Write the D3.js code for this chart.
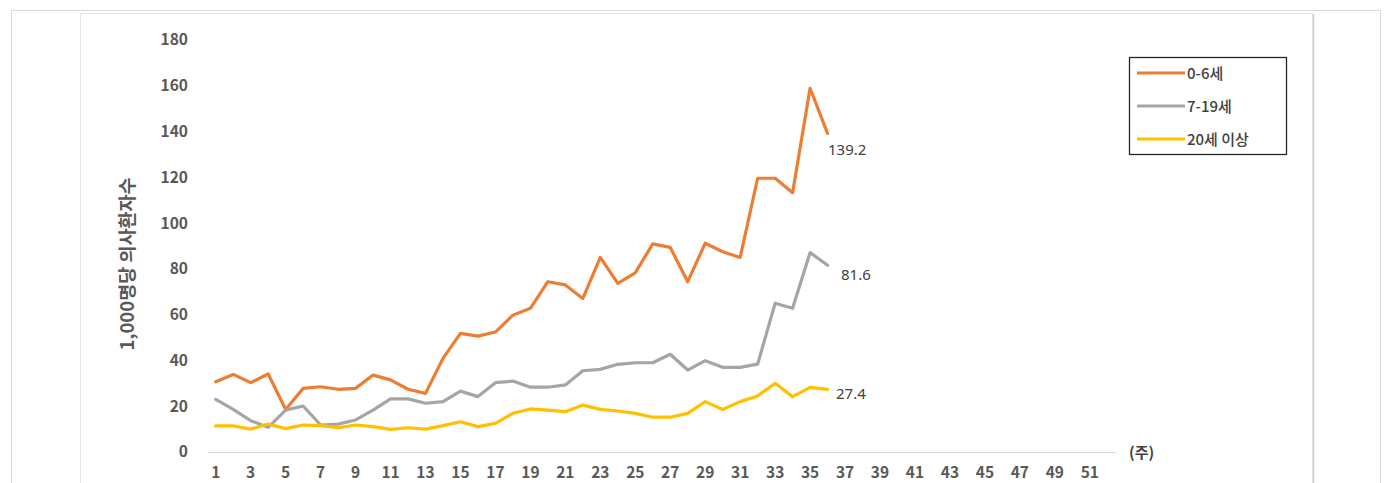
<!DOCTYPE html>
<html><head><meta charset="utf-8">
<script src="https://cdn.jsdelivr.net/npm/d3@7"></script>
<style>body{margin:0;background:#fff;}svg{display:block;font-family:"Noto Sans CJK KR","Noto Sans",sans-serif;}</style>
</head><body><svg id="c" width="1392" height="483"></svg>
<script>
const weeks = d3.range(1, 53);
const tickWeeks = d3.range(1, 53, 2);
const yTicks = [0,20,40,60,80,100,120,140,160,180];
const seriesNames = ["0-6세","7-19세","20세 이상"];
const seriesColors = ["#ED7D31","#A5A5A5","#FFC000"];
const age0_6 = [30.7,33.9,30.3,34.1,18.6,27.8,28.5,27.4,27.8,33.6,31.5,27.4,25.6,40.9,51.8,50.6,52.4,59.8,62.8,74.4,73.0,67.1,85.0,73.7,78.3,90.9,89.4,74.4,91.2,87.5,85.0,119.6,119.6,113.3,158.9,139.2];
const age7_19 = [23.0,18.6,13.7,10.8,18.3,20.1,11.8,12.2,14.0,18.3,23.2,23.2,21.3,22.0,26.6,24.2,30.3,31.0,28.3,28.3,29.3,35.5,36.1,38.3,39.0,39.0,42.7,35.8,39.9,37.0,37.0,38.4,65.0,62.8,87.1,81.6];
const age20p = [11.4,11.4,10.0,12.2,10.2,11.8,11.5,10.6,11.8,11.1,9.9,10.6,10.0,11.5,13.2,11.1,12.5,16.9,18.8,18.3,17.6,20.5,18.6,17.9,16.9,15.2,15.2,16.9,22.0,18.6,22.0,24.5,30.0,24.2,28.2,27.4];
const seriesData = [age0_6, age7_19, age20p];
const endLabels = ["139.2","81.6","27.4"];

const svg = d3.select("#c");
// frames
svg.append("rect").attr("x",11.5).attr("y",10.5).attr("width",1369).attr("height",490).attr("fill","none").attr("stroke","#d9d9d9");
svg.append("rect").attr("x",80.5).attr("y",13.5).attr("width",1232).attr("height",490).attr("fill","none").attr("stroke","#e6e6e6");
svg.append("line").attr("x1",1313.5).attr("x2",1313.5).attr("y1",14).attr("y2",483).attr("stroke","#cfcfcf").attr("stroke-width",1.5);

const x = d3.scaleBand().domain(weeks).range([207,1116]);
const y = d3.scaleLinear().domain([0,180]).range([452,40]);
const cx = w => x(w) + x.bandwidth()/2;

// y axis labels
const ya = svg.append("g").attr("transform","translate(188,0)")
  .call(d3.axisLeft(y).tickValues(yTicks).tickSize(0).tickPadding(0));
ya.select(".domain").remove();
ya.selectAll("text").attr("font-size",15.5).attr("font-weight",600).attr("fill","#595959").attr("font-family","'Noto Sans CJK KR',sans-serif");

// x axis
const xa = svg.append("g").attr("transform","translate(0,452)")
  .call(d3.axisBottom(x).tickValues(tickWeeks).tickSize(0).tickPadding(15));
xa.select(".domain").attr("stroke","#d9d9d9").attr("stroke-width",1.2);
xa.selectAll("text").attr("font-size",15.5).attr("font-weight",600).attr("fill","#595959").attr("font-family","'Noto Sans CJK KR',sans-serif");

svg.append("text").attr("x",1129).attr("y",458).text("(주)")
  .attr("font-size",15).attr("font-weight",700).attr("fill","#404040");

// y title
svg.append("text").attr("transform","translate(134,264) rotate(-90)").attr("text-anchor","middle")
  .text("1,000명당 의사환자수").attr("font-size",18.5).attr("font-weight",700).attr("fill","#595959");

// lines
const line = d3.line().x((d,i)=>cx(weeks[i])).y(d=>y(d)).curve(d3.curveLinear);
seriesData.forEach((s,k)=>{
  svg.append("path").datum(s).attr("d",line).attr("fill","none")
    .attr("stroke",seriesColors[k]).attr("stroke-width",3.2).attr("stroke-linejoin","round").attr("stroke-linecap","round");
});

// end labels
const lblPos = [[828,155],[841,280],[836,399]];
seriesData.forEach((s,k)=>{
  svg.append("text").attr("x",lblPos[k][0]).attr("y",lblPos[k][1]).text(endLabels[k])
    .attr("font-size",15).attr("fill","#404040").attr("font-family","'Noto Sans','Noto Sans CJK KR',sans-serif");
});

// legend
svg.append("rect").attr("x",1129.5).attr("y",57.5).attr("width",157).attr("height",97).attr("fill","#fff").attr("stroke","#262626").attr("stroke-width",1.3);
seriesNames.forEach((n,k)=>{
  const yy = 73 + k*33;
  svg.append("line").attr("x1",1137).attr("x2",1185).attr("y1",yy).attr("y2",yy).attr("stroke",seriesColors[k]).attr("stroke-width",3.2);
  svg.append("text").attr("x",1187).attr("y",yy+5.5).text(n).attr("font-size",15).attr("font-weight",500).attr("fill","#404040");
});
</script></body></html>
